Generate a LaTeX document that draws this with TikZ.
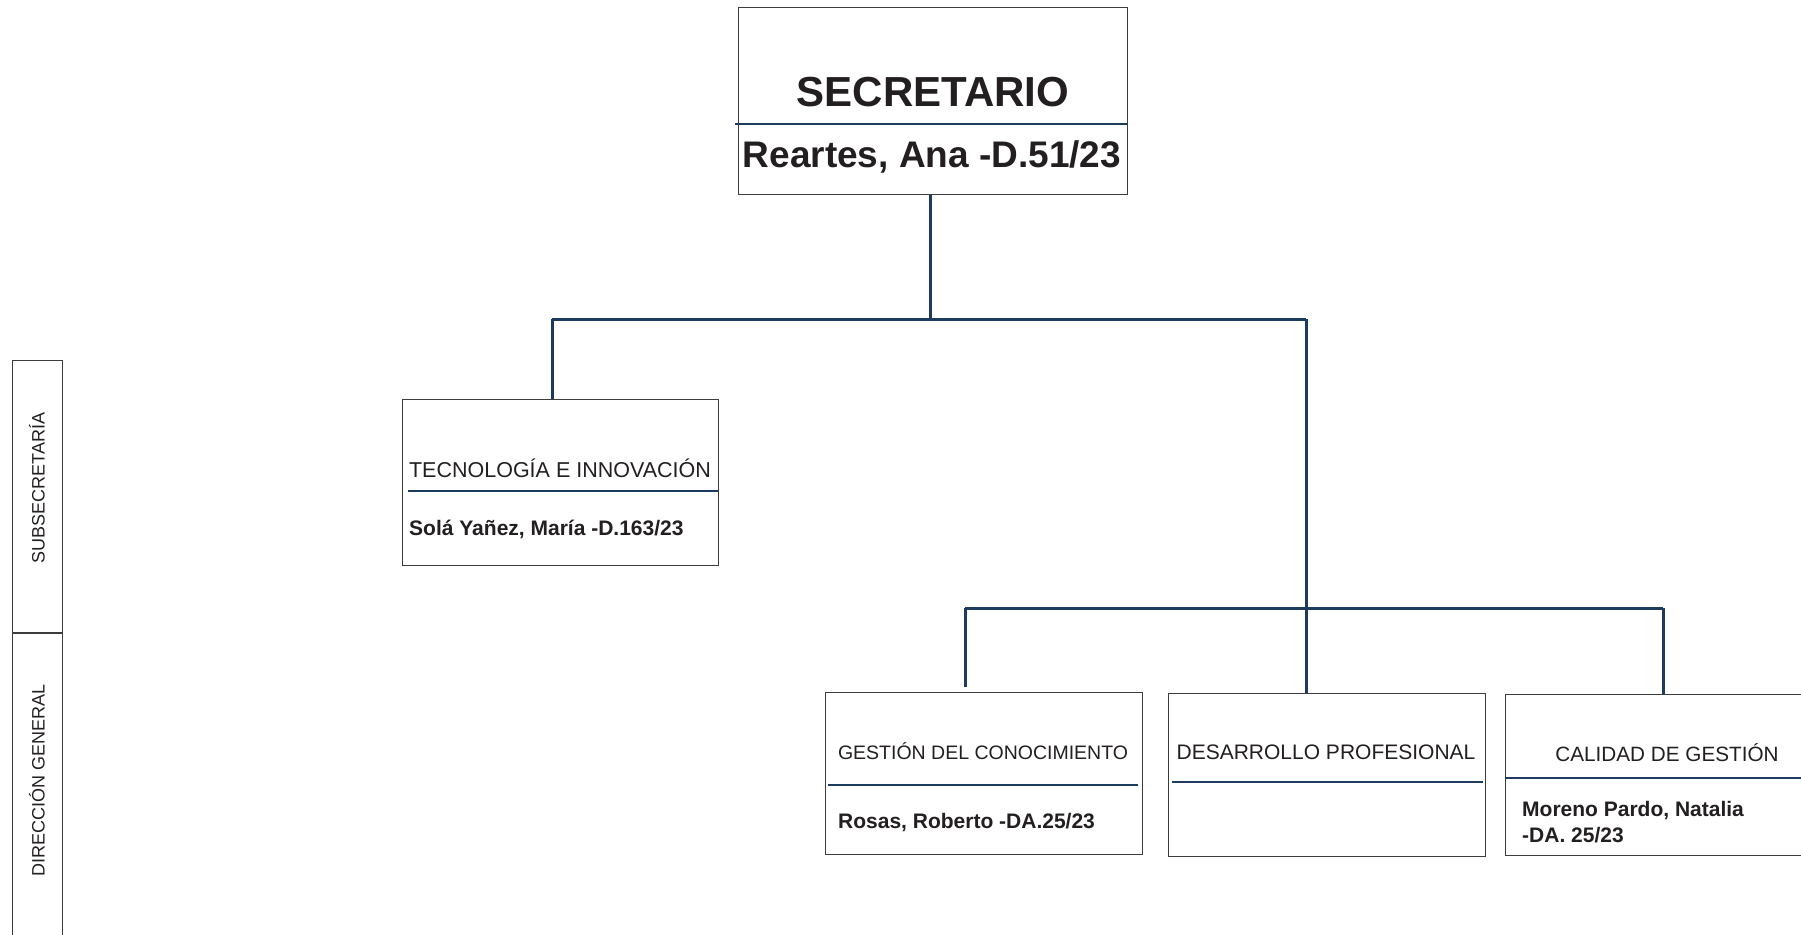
\documentclass[tikz,border=0pt]{standalone}
\usepackage{fontspec}
\setmainfont{Liberation Sans}
\definecolor{navy}{HTML}{1D3A5F}
\definecolor{boxgray}{HTML}{3C3C3C}
\definecolor{txt}{HTML}{231F20}
\begin{document}
\begin{tikzpicture}[x=1pt,y=-1pt,
  unitbox/.style={draw=boxgray,line width=1.3pt,inner sep=0pt,anchor=north west,fill=white},
  conn/.style={draw=navy,line width=3pt},
  divider/.style={draw=navy,line width=2.5pt},
  titletext/.style={inner sep=0pt,anchor=base,text=txt,font=\fontsize{21}{25}\selectfont},
  nametext/.style={inner sep=0pt,anchor=base west,text=txt,font=\fontsize{21}{25}\selectfont\bfseries},
  sidetext/.style={inner sep=0pt,rotate=90,text=txt,font=\fontsize{18}{22}\selectfont}
]
\path[use as bounding box] (0,0) rectangle (1801,934);
\clip (0,0) rectangle (1801,934);
\fill[white] (0,0) rectangle (1801,934);

% side panel
\node[unitbox,minimum width=50pt,minimum height=600pt] (side) at (12,360) {};
\draw[draw=boxgray,line width=1.3pt] (12,633) -- (62,633);
\node[sidetext] (subs) at (37,488) {SUBSECRETARÍA};
\node[sidetext] (dirg) at (37,780) {DIRECCIÓN GENERAL};

% boxes
\node[unitbox,minimum width=389pt,minimum height=187pt] (sec) at (738,7) {};
\node[unitbox,minimum width=316pt,minimum height=166pt] (tec) at (402,399) {};
\node[unitbox,minimum width=317pt,minimum height=162pt] (gc) at (825,692) {};
\node[unitbox,minimum width=317pt,minimum height=163pt] (dp) at (1168,693) {};
\node[unitbox,minimum width=320pt,minimum height=161pt] (cg) at (1505,694) {};

% dividers
\draw[divider] (735,124) -- (1127,124);
\draw[divider] (408,491) -- (718,491);
\draw[divider] (828,785) -- (1138,785);
\draw[divider] (1172,782) -- (1483,782);
\draw[divider] (1505,778) -- (1801,778);

% texts
\node[inner sep=0pt,anchor=base,text=txt,font=\fontsize{42}{48}\selectfont\bfseries] (sectitle) at (933,106) {SECRETARIO};
\node[inner sep=0pt,anchor=base,text=txt,font=\fontsize{37}{44}\selectfont\bfseries] (secname) at (932,167) {Reartes, Ana -D.51/23};

\node[titletext,font=\fontsize{21.5}{25}\selectfont] (tectitle) at (560,477) {TECNOLOGÍA E INNOVACIÓN};
\node[nametext] (tecname) at (409,535) {Solá Yañez, María -D.163/23};

\node[titletext,font=\fontsize{19.5}{24}\selectfont] (gctitle) at (983,759) {GESTIÓN DEL CONOCIMIENTO};
\node[nametext] (gcname) at (838,828) {Rosas, Roberto -DA.25/23};

\node[titletext] (dptitle) at (1326,759) {DESARROLLO PROFESIONAL};

\node[titletext,font=\fontsize{20.7}{25}\selectfont] (cgtitle) at (1667,761) {CALIDAD DE GESTIÓN};
\node[nametext] (cgname1) at (1522,816) {Moreno Pardo, Natalia};
\node[nametext] (cgname2) at (1522,842) {-DA. 25/23};

% connectors
\coordinate (j1) at (930,319);
\coordinate (jl) at (552,319);
\coordinate (jr) at (1306,319);
\coordinate (kl) at (965,608);
\coordinate (kr) at (1663,608);
\coordinate (kle) at (965,687);

\draw[conn] (j1 |- sec.south) -- (j1);
\draw[conn] (jl) -- (jr);
\draw[conn] (jl) -- (jl |- tec.north);
\draw[conn] (jr) -- (jr |- dp.north);
\draw[conn] (kl) -- (kr);
\draw[conn] (kl) -- (kle);
\draw[conn] (kr) -- (kr |- cg.north);
\end{tikzpicture}
\end{document}
